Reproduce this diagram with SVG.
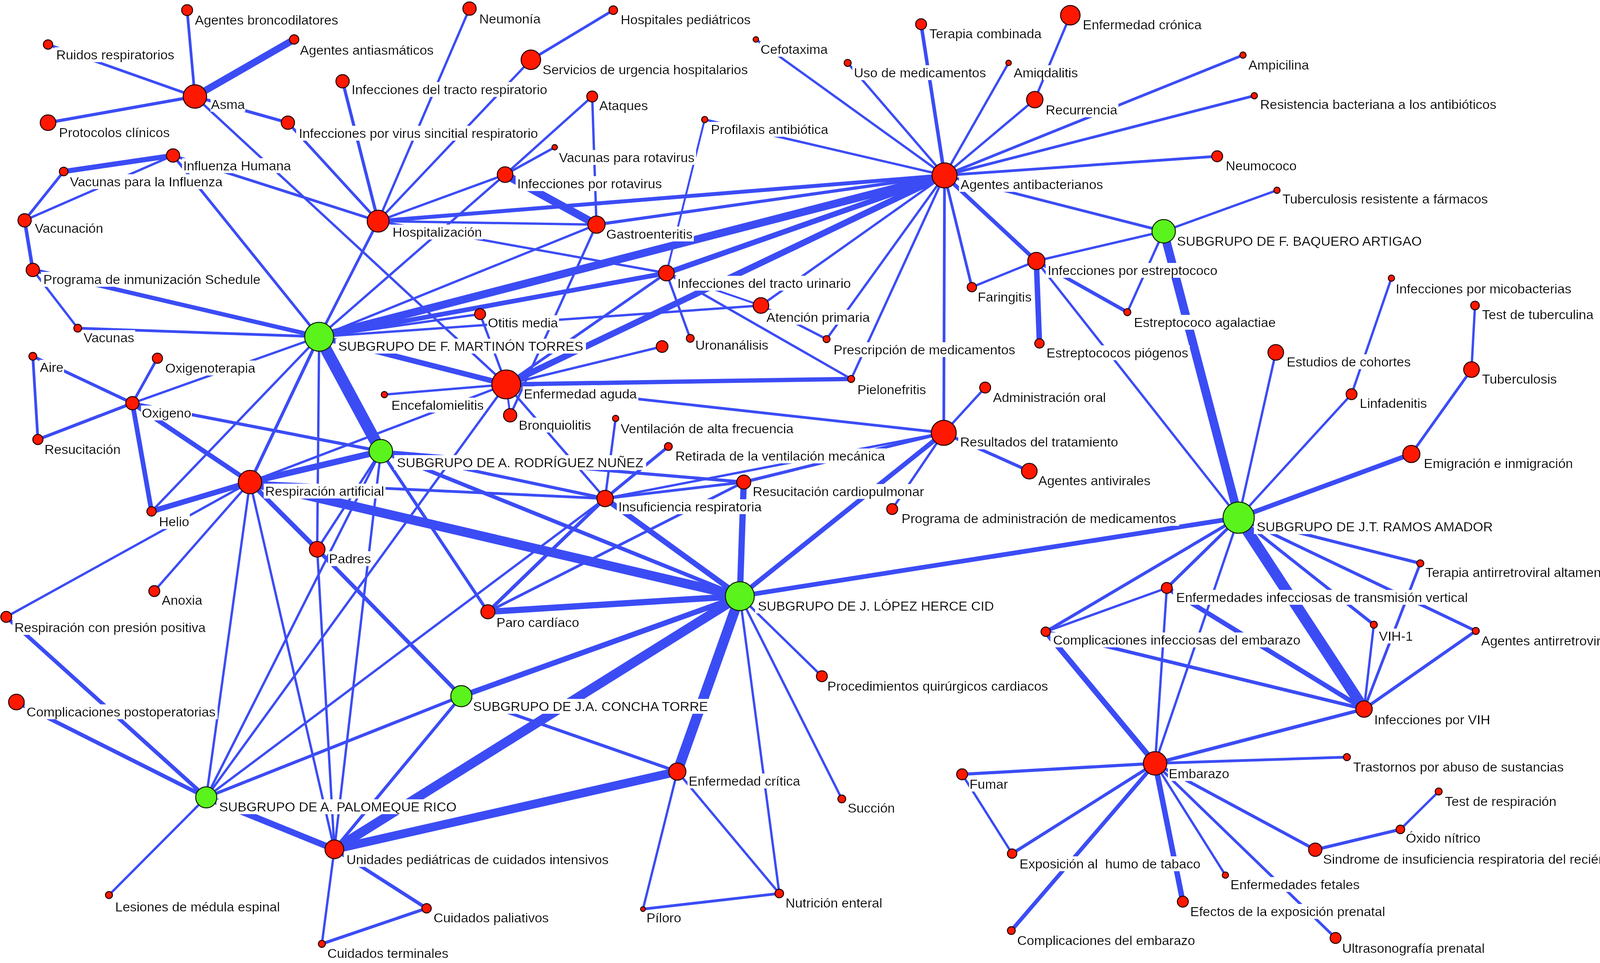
<svg xmlns="http://www.w3.org/2000/svg" width="4257" height="2465" viewBox="0 0 4257 2465">
<defs>
<filter id="wb" x="-0.01" y="0" width="1.02" height="1"><feFlood flood-color="#ffffff"/><feComposite in="SourceGraphic"/></filter>
<style>
.e line{stroke:#3b4cf5;stroke-linecap:butt}
.r{fill:#ff1800;stroke:#200000;stroke-width:2.5}
.g{fill:#5af31c;stroke:#102000;stroke-width:2.5}
text{font-family:"Liberation Sans",Arial,sans-serif;font-size:34px;fill:#000;filter:url(#wb)}
</style>
</defs>
<rect width="4257" height="2465" fill="#ffffff"/>
<g id="edges" class="e">
<line x1="499" y1="247" x2="479" y2="26" stroke-width="7"/>
<line x1="499" y1="247" x2="753" y2="101" stroke-width="18"/>
<line x1="499" y1="247" x2="123" y2="114" stroke-width="7"/>
<line x1="499" y1="247" x2="123" y2="314" stroke-width="8"/>
<line x1="499" y1="247" x2="737" y2="314" stroke-width="8"/>
<line x1="499" y1="247" x2="1296" y2="984" stroke-width="6"/>
<line x1="737" y1="314" x2="968" y2="566" stroke-width="7"/>
<line x1="877" y1="208" x2="968" y2="566" stroke-width="8"/>
<line x1="1202" y1="22" x2="968" y2="566" stroke-width="6"/>
<line x1="1359" y1="153" x2="968" y2="566" stroke-width="6"/>
<line x1="1570" y1="26" x2="1359" y2="153" stroke-width="7"/>
<line x1="443" y1="398" x2="968" y2="566" stroke-width="7"/>
<line x1="443" y1="398" x2="163" y2="439" stroke-width="13"/>
<line x1="63" y1="564" x2="443" y2="398" stroke-width="6"/>
<line x1="63" y1="564" x2="163" y2="439" stroke-width="7"/>
<line x1="63" y1="564" x2="84" y2="691" stroke-width="9"/>
<line x1="84" y1="691" x2="199" y2="840" stroke-width="6"/>
<line x1="84" y1="691" x2="817" y2="862" stroke-width="11"/>
<line x1="199" y1="840" x2="817" y2="862" stroke-width="7"/>
<line x1="443" y1="398" x2="817" y2="862" stroke-width="7"/>
<line x1="968" y1="566" x2="817" y2="862" stroke-width="7"/>
<line x1="968" y1="566" x2="2418" y2="449" stroke-width="10"/>
<line x1="968" y1="566" x2="1527" y2="575" stroke-width="6"/>
<line x1="968" y1="566" x2="1706" y2="699" stroke-width="6"/>
<line x1="968" y1="566" x2="1293" y2="447" stroke-width="6"/>
<line x1="1293" y1="447" x2="1527" y2="575" stroke-width="20"/>
<line x1="1516" y1="247" x2="1527" y2="575" stroke-width="6"/>
<line x1="1516" y1="247" x2="1293" y2="447" stroke-width="6"/>
<line x1="1420" y1="377" x2="1293" y2="447" stroke-width="6"/>
<line x1="1527" y1="575" x2="817" y2="862" stroke-width="6"/>
<line x1="1293" y1="447" x2="817" y2="862" stroke-width="6"/>
<line x1="1527" y1="575" x2="2418" y2="449" stroke-width="8"/>
<line x1="1527" y1="575" x2="1306" y2="1063" stroke-width="6"/>
<line x1="1706" y1="699" x2="2418" y2="449" stroke-width="14"/>
<line x1="1706" y1="699" x2="1767" y2="866" stroke-width="6"/>
<line x1="1706" y1="699" x2="2179" y2="970" stroke-width="6"/>
<line x1="1706" y1="699" x2="1296" y2="984" stroke-width="7"/>
<line x1="1706" y1="699" x2="817" y2="862" stroke-width="12"/>
<line x1="1804" y1="306" x2="1706" y2="699" stroke-width="5"/>
<line x1="1804" y1="306" x2="2418" y2="449" stroke-width="6"/>
<line x1="817" y1="862" x2="2418" y2="449" stroke-width="20"/>
<line x1="1296" y1="984" x2="2418" y2="449" stroke-width="16"/>
<line x1="817" y1="862" x2="1948" y2="782" stroke-width="6"/>
<line x1="1948" y1="782" x2="2418" y2="449" stroke-width="6"/>
<line x1="1948" y1="782" x2="2116" y2="868" stroke-width="6"/>
<line x1="1706" y1="699" x2="1948" y2="782" stroke-width="5"/>
<line x1="2116" y1="868" x2="2418" y2="449" stroke-width="6"/>
<line x1="2179" y1="970" x2="2418" y2="449" stroke-width="6"/>
<line x1="1296" y1="984" x2="2179" y2="970" stroke-width="11"/>
<line x1="1296" y1="984" x2="2416" y2="1108" stroke-width="7"/>
<line x1="1296" y1="984" x2="1695" y2="887" stroke-width="6"/>
<line x1="1229" y1="804" x2="817" y2="862" stroke-width="6"/>
<line x1="1229" y1="804" x2="1296" y2="984" stroke-width="6"/>
<line x1="817" y1="862" x2="1296" y2="984" stroke-width="14"/>
<line x1="984" y1="1010" x2="1296" y2="984" stroke-width="6"/>
<line x1="640" y1="1234" x2="1296" y2="984" stroke-width="6"/>
<line x1="528" y1="2041" x2="1296" y2="984" stroke-width="6"/>
<line x1="1296" y1="984" x2="1549" y2="1276" stroke-width="6"/>
<line x1="1306" y1="1063" x2="1296" y2="984" stroke-width="5"/>
<line x1="2418" y1="449" x2="1935" y2="101" stroke-width="6"/>
<line x1="2418" y1="449" x2="2170" y2="161" stroke-width="6"/>
<line x1="2418" y1="449" x2="2358" y2="62" stroke-width="9"/>
<line x1="2418" y1="449" x2="2582" y2="161" stroke-width="6"/>
<line x1="2418" y1="449" x2="2649" y2="255" stroke-width="6"/>
<line x1="2649" y1="255" x2="2740" y2="39" stroke-width="6"/>
<line x1="2418" y1="449" x2="3182" y2="141" stroke-width="7"/>
<line x1="2418" y1="449" x2="3211" y2="245" stroke-width="7"/>
<line x1="2418" y1="449" x2="3116" y2="400" stroke-width="7"/>
<line x1="2418" y1="449" x2="2979" y2="592" stroke-width="7"/>
<line x1="2418" y1="449" x2="2653" y2="668" stroke-width="10"/>
<line x1="2418" y1="449" x2="2488" y2="735" stroke-width="7"/>
<line x1="2418" y1="449" x2="2416" y2="1108" stroke-width="7"/>
<line x1="2653" y1="668" x2="2488" y2="735" stroke-width="6"/>
<line x1="2653" y1="668" x2="2661" y2="879" stroke-width="14"/>
<line x1="2653" y1="668" x2="2886" y2="799" stroke-width="9"/>
<line x1="2653" y1="668" x2="2979" y2="592" stroke-width="6"/>
<line x1="2886" y1="799" x2="2979" y2="592" stroke-width="6"/>
<line x1="2979" y1="592" x2="3269" y2="487" stroke-width="6"/>
<line x1="2979" y1="592" x2="3171" y2="1325" stroke-width="22"/>
<line x1="2653" y1="668" x2="3171" y2="1325" stroke-width="6"/>
<line x1="3171" y1="1325" x2="3266" y2="902" stroke-width="6"/>
<line x1="3171" y1="1325" x2="3460" y2="1009" stroke-width="6"/>
<line x1="3460" y1="1009" x2="3562" y2="712" stroke-width="6"/>
<line x1="3171" y1="1325" x2="3613" y2="1162" stroke-width="12"/>
<line x1="3613" y1="1162" x2="3767" y2="946" stroke-width="7"/>
<line x1="3767" y1="946" x2="3776" y2="782" stroke-width="6"/>
<line x1="3171" y1="1325" x2="1894" y2="1526" stroke-width="12"/>
<line x1="3171" y1="1325" x2="3636" y2="1442" stroke-width="8"/>
<line x1="3171" y1="1325" x2="3778" y2="1615" stroke-width="8"/>
<line x1="3171" y1="1325" x2="3517" y2="1599" stroke-width="8"/>
<line x1="3171" y1="1325" x2="3492" y2="1815" stroke-width="28"/>
<line x1="3171" y1="1325" x2="2987" y2="1505" stroke-width="8"/>
<line x1="3171" y1="1325" x2="2677" y2="1617" stroke-width="8"/>
<line x1="3171" y1="1325" x2="2957" y2="1954" stroke-width="6"/>
<line x1="3636" y1="1442" x2="3492" y2="1815" stroke-width="7"/>
<line x1="3517" y1="1599" x2="3492" y2="1815" stroke-width="6"/>
<line x1="3778" y1="1615" x2="3492" y2="1815" stroke-width="8"/>
<line x1="2987" y1="1505" x2="3492" y2="1815" stroke-width="12"/>
<line x1="2677" y1="1617" x2="3492" y2="1815" stroke-width="9"/>
<line x1="2957" y1="1954" x2="3492" y2="1815" stroke-width="9"/>
<line x1="2677" y1="1617" x2="2987" y2="1505" stroke-width="6"/>
<line x1="2677" y1="1617" x2="2957" y2="1954" stroke-width="14"/>
<line x1="2987" y1="1505" x2="2957" y2="1954" stroke-width="6"/>
<line x1="2957" y1="1954" x2="3448" y2="1938" stroke-width="7"/>
<line x1="2957" y1="1954" x2="2463" y2="1982" stroke-width="8"/>
<line x1="2463" y1="1982" x2="2591" y2="2185" stroke-width="6"/>
<line x1="2957" y1="1954" x2="2591" y2="2185" stroke-width="8"/>
<line x1="2957" y1="1954" x2="2589" y2="2382" stroke-width="10"/>
<line x1="2957" y1="1954" x2="3137" y2="2240" stroke-width="6"/>
<line x1="2957" y1="1954" x2="3028" y2="2308" stroke-width="14"/>
<line x1="2957" y1="1954" x2="3367" y2="2175" stroke-width="8"/>
<line x1="3367" y1="2175" x2="3585" y2="2123" stroke-width="8"/>
<line x1="3585" y1="2123" x2="3683" y2="2026" stroke-width="6"/>
<line x1="2957" y1="1954" x2="3419" y2="2401" stroke-width="7"/>
<line x1="2416" y1="1108" x2="2522" y2="992" stroke-width="6"/>
<line x1="2416" y1="1108" x2="2635" y2="1206" stroke-width="8"/>
<line x1="2416" y1="1108" x2="2284" y2="1303" stroke-width="6"/>
<line x1="2416" y1="1108" x2="1894" y2="1526" stroke-width="12"/>
<line x1="2416" y1="1108" x2="1549" y2="1276" stroke-width="6"/>
<line x1="2416" y1="1108" x2="1904" y2="1234" stroke-width="8"/>
<line x1="1894" y1="1526" x2="1904" y2="1234" stroke-width="16"/>
<line x1="1894" y1="1526" x2="1549" y2="1276" stroke-width="14"/>
<line x1="1894" y1="1526" x2="1249" y2="1566" stroke-width="16"/>
<line x1="1894" y1="1526" x2="640" y2="1234" stroke-width="24"/>
<line x1="1894" y1="1526" x2="975" y2="1155" stroke-width="10"/>
<line x1="1894" y1="1526" x2="1181" y2="1782" stroke-width="14"/>
<line x1="1894" y1="1526" x2="856" y2="2174" stroke-width="24"/>
<line x1="1894" y1="1526" x2="1734" y2="1975" stroke-width="26"/>
<line x1="1894" y1="1526" x2="2104" y2="1731" stroke-width="6"/>
<line x1="1894" y1="1526" x2="2155" y2="2045" stroke-width="6"/>
<line x1="1894" y1="1526" x2="1995" y2="2287" stroke-width="6"/>
<line x1="1734" y1="1975" x2="856" y2="2174" stroke-width="22"/>
<line x1="1734" y1="1975" x2="1181" y2="1782" stroke-width="8"/>
<line x1="1734" y1="1975" x2="1646" y2="2327" stroke-width="6"/>
<line x1="1734" y1="1975" x2="1995" y2="2287" stroke-width="6"/>
<line x1="1646" y1="2327" x2="1995" y2="2287" stroke-width="7"/>
<line x1="975" y1="1155" x2="817" y2="862" stroke-width="30"/>
<line x1="975" y1="1155" x2="640" y2="1234" stroke-width="16"/>
<line x1="975" y1="1155" x2="1549" y2="1276" stroke-width="8"/>
<line x1="975" y1="1155" x2="1904" y2="1234" stroke-width="8"/>
<line x1="975" y1="1155" x2="1249" y2="1566" stroke-width="8"/>
<line x1="975" y1="1155" x2="528" y2="2041" stroke-width="6"/>
<line x1="975" y1="1155" x2="856" y2="2174" stroke-width="6"/>
<line x1="975" y1="1155" x2="812" y2="1406" stroke-width="6"/>
<line x1="339" y1="1032" x2="975" y2="1155" stroke-width="8"/>
<line x1="339" y1="1032" x2="640" y2="1234" stroke-width="12"/>
<line x1="339" y1="1032" x2="388" y2="1309" stroke-width="12"/>
<line x1="339" y1="1032" x2="84" y2="912" stroke-width="8"/>
<line x1="339" y1="1032" x2="403" y2="917" stroke-width="7"/>
<line x1="339" y1="1032" x2="97" y2="1125" stroke-width="8"/>
<line x1="339" y1="1032" x2="817" y2="862" stroke-width="6"/>
<line x1="84" y1="912" x2="97" y2="1125" stroke-width="7"/>
<line x1="388" y1="1309" x2="640" y2="1234" stroke-width="14"/>
<line x1="388" y1="1309" x2="817" y2="862" stroke-width="6"/>
<line x1="640" y1="1234" x2="817" y2="862" stroke-width="8"/>
<line x1="640" y1="1234" x2="1549" y2="1276" stroke-width="7"/>
<line x1="640" y1="1234" x2="812" y2="1406" stroke-width="12"/>
<line x1="640" y1="1234" x2="528" y2="2041" stroke-width="6"/>
<line x1="640" y1="1234" x2="856" y2="2174" stroke-width="6"/>
<line x1="640" y1="1234" x2="395" y2="1513" stroke-width="6"/>
<line x1="16" y1="1579" x2="640" y2="1234" stroke-width="6"/>
<line x1="812" y1="1406" x2="817" y2="862" stroke-width="6"/>
<line x1="812" y1="1406" x2="1181" y2="1782" stroke-width="10"/>
<line x1="812" y1="1406" x2="856" y2="2174" stroke-width="6"/>
<line x1="528" y1="2041" x2="856" y2="2174" stroke-width="16"/>
<line x1="528" y1="2041" x2="1181" y2="1782" stroke-width="8"/>
<line x1="528" y1="2041" x2="42" y2="1797" stroke-width="10"/>
<line x1="528" y1="2041" x2="16" y2="1579" stroke-width="10"/>
<line x1="528" y1="2041" x2="279" y2="2291" stroke-width="6"/>
<line x1="528" y1="2041" x2="1549" y2="1276" stroke-width="6"/>
<line x1="1181" y1="1782" x2="856" y2="2174" stroke-width="8"/>
<line x1="856" y1="2174" x2="824" y2="2416" stroke-width="6"/>
<line x1="856" y1="2174" x2="1092" y2="2325" stroke-width="9"/>
<line x1="824" y1="2416" x2="1092" y2="2325" stroke-width="8"/>
<line x1="1549" y1="1276" x2="1576" y2="1071" stroke-width="6"/>
<line x1="1549" y1="1276" x2="1711" y2="1143" stroke-width="8"/>
<line x1="1549" y1="1276" x2="1904" y2="1234" stroke-width="7"/>
<line x1="1549" y1="1276" x2="1249" y2="1566" stroke-width="9"/>
<line x1="1904" y1="1234" x2="1249" y2="1566" stroke-width="7"/>
</g>
<g id="n1"><text x="499" y="63">Agentes broncodilatores</text><circle class="r" cx="479" cy="26" r="14"/></g>
<g id="n2"><text x="144" y="152">Ruidos respiratorios</text><circle class="r" cx="123" cy="114" r="12"/></g>
<g id="n3"><text x="768" y="140">Agentes antiasmáticos</text><circle class="r" cx="753" cy="101" r="12"/></g>
<g id="n4"><text x="540" y="279">Asma</text><circle class="r" cx="499" cy="247" r="30"/></g>
<g id="n5"><text x="151" y="351">Protocolos clínicos</text><circle class="r" cx="123" cy="314" r="20"/></g>
<g id="n6"><text x="900" y="241">Infecciones del tracto respiratorio</text><circle class="r" cx="877" cy="208" r="17"/></g>
<g id="n7"><text x="765" y="353">Infecciones por virus sincitial respiratorio</text><circle class="r" cx="737" cy="314" r="17"/></g>
<g id="n8"><text x="469" y="436">Influenza Humana</text><circle class="r" cx="443" cy="398" r="17"/></g>
<g id="n9"><text x="179" y="477">Vacunas para la Influenza</text><circle class="r" cx="163" cy="439" r="11"/></g>
<g id="n10"><text x="89" y="596">Vacunación</text><circle class="r" cx="63" cy="564" r="17"/></g>
<g id="n11"><text x="111" y="727">Programa de inmunización Schedule</text><circle class="r" cx="84" cy="691" r="17"/></g>
<g id="n12"><text x="1005" y="606">Hospitalización</text><circle class="r" cx="968" cy="566" r="28"/></g>
<g id="n13"><text x="866" y="898">SUBGRUPO DE F. MARTINÓN TORRES</text><circle class="g" cx="817" cy="862" r="37"/></g>
<g id="n14"><text x="214" y="876">Vacunas</text><circle class="r" cx="199" cy="840" r="10"/></g>
<g id="n15"><text x="1227" y="60">Neumonía</text><circle class="r" cx="1202" cy="22" r="17"/></g>
<g id="n16"><text x="1589" y="62">Hospitales pediátricos</text><circle class="r" cx="1570" cy="26" r="11"/></g>
<g id="n17"><text x="1947" y="138">Cefotaxima</text><circle class="r" cx="1935" cy="101" r="7"/></g>
<g id="n18"><text x="1389" y="190">Servicios de urgencia hospitalarios</text><circle class="r" cx="1359" cy="153" r="25"/></g>
<g id="n19"><text x="1534" y="282">Ataques</text><circle class="r" cx="1516" cy="247" r="14"/></g>
<g id="n20"><text x="1820" y="343">Profilaxis antibiótica</text><circle class="r" cx="1804" cy="306" r="8"/></g>
<g id="n21"><text x="1431" y="415">Vacunas para rotavirus</text><circle class="r" cx="1420" cy="377" r="7"/></g>
<g id="n22"><text x="1324" y="482">Infecciones por rotavirus</text><circle class="r" cx="1293" cy="447" r="20"/></g>
<g id="n23"><text x="1552" y="611">Gastroenteritis</text><circle class="r" cx="1527" cy="575" r="22"/></g>
<g id="n24"><text x="1734" y="737">Infecciones del tracto urinario</text><circle class="r" cx="1706" cy="699" r="20"/></g>
<g id="n25"><text x="1962" y="824">Atención primaria</text><circle class="r" cx="1948" cy="782" r="20"/></g>
<g id="n26"><text x="1249" y="838">Otitis media</text><circle class="r" cx="1229" cy="804" r="14"/></g>
<g id="n27"><text x="2379" y="98">Terapia combinada</text><circle class="r" cx="2358" cy="62" r="14"/></g>
<g id="n28"><text x="2772" y="75">Enfermedad crónica</text><circle class="r" cx="2740" cy="39" r="25"/></g>
<g id="n29"><text x="2186" y="198">Uso de medicamentos</text><circle class="r" cx="2170" cy="161" r="9"/></g>
<g id="n30"><text x="2595" y="198">Amiqdalitis</text><circle class="r" cx="2582" cy="161" r="7"/></g>
<g id="n31"><text x="2677" y="293">Recurrencia</text><circle class="r" cx="2649" cy="255" r="21"/></g>
<g id="n32"><text x="3196" y="178">Ampicilina</text><circle class="r" cx="3182" cy="141" r="8"/></g>
<g id="n33"><text x="3226" y="279">Resistencia bacteriana a los antibióticos</text><circle class="r" cx="3211" cy="245" r="8"/></g>
<g id="n34"><text x="3138" y="436">Neumococo</text><circle class="r" cx="3116" cy="400" r="14"/></g>
<g id="n35"><text x="2459" y="484">Agentes antibacterianos</text><circle class="r" cx="2418" cy="449" r="32"/></g>
<g id="n36"><text x="3283" y="521">Tuberculosis resistente a fármacos</text><circle class="r" cx="3269" cy="487" r="8"/></g>
<g id="n37"><text x="3013" y="629">SUBGRUPO DE F. BAQUERO ARTIGAO</text><circle class="g" cx="2979" cy="592" r="30"/></g>
<g id="n38"><text x="2682" y="704">Infecciones por estreptococo</text><circle class="r" cx="2653" cy="668" r="22"/></g>
<g id="n39"><text x="2503" y="772">Faringitis</text><circle class="r" cx="2488" cy="735" r="12"/></g>
<g id="n40"><text x="2903" y="837">Estreptococo agalactiae</text><circle class="r" cx="2886" cy="799" r="9"/></g>
<g id="n41"><text x="3573" y="751">Infecciones por micobacterias</text><circle class="r" cx="3562" cy="712" r="8"/></g>
<g id="n42"><text x="3794" y="817">Test de tuberculina</text><circle class="r" cx="3776" cy="782" r="11"/></g>
<g id="n43"><text x="2134" y="907">Prescripción de medicamentos</text><circle class="r" cx="2116" cy="868" r="9"/></g>
<g id="n44"><text x="2679" y="915">Estreptococos piógenos</text><circle class="r" cx="2661" cy="879" r="12"/></g>
<g id="n45"><text x="2195" y="1009">Pielonefritis</text><circle class="r" cx="2179" cy="970" r="9"/></g>
<g id="n46"><text x="1780" y="895">Uronanálisis</text><circle class="r" cx="1767" cy="866" r="10"/></g>
<g id="n47"><circle class="r" cx="1695" cy="887" r="15"/></g>
<g id="n48"><text x="1341" y="1020">Enfermedad aguda</text><circle class="r" cx="1296" cy="984" r="37"/></g>
<g id="n49"><text x="1002" y="1049">Encefalomielitis</text><circle class="r" cx="984" cy="1010" r="8"/></g>
<g id="n50"><text x="1328" y="1100">Bronquiolitis</text><circle class="r" cx="1306" cy="1063" r="17"/></g>
<g id="n51"><text x="1589" y="1109">Ventilación de alta frecuencia</text><circle class="r" cx="1576" cy="1071" r="8"/></g>
<g id="n52"><text x="1729" y="1179">Retirada de la ventilación mecánica</text><circle class="r" cx="1711" cy="1143" r="10"/></g>
<g id="n53"><text x="1583" y="1309">Insuficiencia respiratoria</text><circle class="r" cx="1549" cy="1276" r="21"/></g>
<g id="n54"><text x="1927" y="1270">Resucitación cardiopulmonar</text><circle class="r" cx="1904" cy="1234" r="18"/></g>
<g id="n55"><text x="1271" y="1605">Paro cardíaco</text><circle class="r" cx="1249" cy="1566" r="18"/></g>
<g id="n56"><text x="1940" y="1563">SUBGRUPO DE J. LÓPEZ HERCE CID</text><circle class="g" cx="1894" cy="1526" r="37"/></g>
<g id="n57"><text x="102" y="952">Aire</text><circle class="r" cx="84" cy="912" r="10"/></g>
<g id="n58"><text x="423" y="954">Oxigenoterapia</text><circle class="r" cx="403" cy="917" r="13"/></g>
<g id="n59"><text x="363" y="1069">Oxigeno</text><circle class="r" cx="339" cy="1032" r="17"/></g>
<g id="n60"><text x="114" y="1162">Resucitación</text><circle class="r" cx="97" cy="1125" r="13"/></g>
<g id="n61"><text x="1016" y="1196">SUBGRUPO DE A. RODRÍGUEZ NUÑEZ</text><circle class="g" cx="975" cy="1155" r="30"/></g>
<g id="n62"><text x="679" y="1269">Respiración artificial</text><circle class="r" cx="640" cy="1234" r="30"/></g>
<g id="n63"><text x="407" y="1347">Helio</text><circle class="r" cx="388" cy="1309" r="12"/></g>
<g id="n64"><text x="842" y="1442">Padres</text><circle class="r" cx="812" cy="1406" r="20"/></g>
<g id="n65"><text x="414" y="1548">Anoxia</text><circle class="r" cx="395" cy="1513" r="14"/></g>
<g id="n66"><text x="37" y="1618">Respiración con presión positiva</text><circle class="r" cx="16" cy="1579" r="14"/></g>
<g id="n67"><text x="2542" y="1029">Administración oral</text><circle class="r" cx="2522" cy="992" r="14"/></g>
<g id="n68"><text x="2458" y="1143">Resultados del tratamiento</text><circle class="r" cx="2416" cy="1108" r="32"/></g>
<g id="n69"><text x="2658" y="1242">Agentes antivirales</text><circle class="r" cx="2635" cy="1206" r="20"/></g>
<g id="n70"><text x="2308" y="1339">Programa de administración de medicamentos</text><circle class="r" cx="2284" cy="1303" r="14"/></g>
<g id="n71"><text x="3217" y="1360">SUBGRUPO DE J.T. RAMOS AMADOR</text><circle class="g" cx="3171" cy="1325" r="40"/></g>
<g id="n72"><text x="3294" y="938">Estudios de cohortes</text><circle class="r" cx="3266" cy="902" r="20"/></g>
<g id="n73"><text x="3481" y="1044">Linfadenitis</text><circle class="r" cx="3460" cy="1009" r="14"/></g>
<g id="n74"><text x="3794" y="982">Tuberculosis</text><circle class="r" cx="3767" cy="946" r="20"/></g>
<g id="n75"><text x="3645" y="1198">Emigración e inmigración</text><circle class="r" cx="3613" cy="1162" r="22"/></g>
<g id="n76"><text x="3649" y="1477">Terapia antirretroviral altamente activa</text><circle class="r" cx="3636" cy="1442" r="9"/></g>
<g id="n77"><text x="3011" y="1541">Enfermedades infecciosas de transmisión vertical</text><circle class="r" cx="2987" cy="1505" r="14"/></g>
<g id="n78"><text x="3530" y="1640">VIH-1</text><circle class="r" cx="3517" cy="1599" r="9"/></g>
<g id="n79"><text x="3792" y="1652">Agentes antirretrovirales</text><circle class="r" cx="3778" cy="1615" r="9"/></g>
<g id="n80"><text x="2696" y="1650">Complicaciones infecciosas del embarazo</text><circle class="r" cx="2677" cy="1617" r="12"/></g>
<g id="n81"><text x="2118" y="1768">Procedimientos quirúrgicos cardiacos</text><circle class="r" cx="2104" cy="1731" r="14"/></g>
<g id="n82"><text x="3518" y="1854">Infecciones por VIH</text><circle class="r" cx="3492" cy="1815" r="21"/></g>
<g id="n83"><text x="3464" y="1975">Trastornos por abuso de sustancias</text><circle class="r" cx="3448" cy="1938" r="9"/></g>
<g id="n84"><text x="2992" y="1992">Embarazo</text><circle class="r" cx="2957" cy="1954" r="30"/></g>
<g id="n85"><text x="2482" y="2019">Fumar</text><circle class="r" cx="2463" cy="1982" r="14"/></g>
<g id="n86"><text x="3699" y="2063">Test de respiración</text><circle class="r" cx="3683" cy="2026" r="9"/></g>
<g id="n87"><text x="3599" y="2157">Óxido nítrico</text><circle class="r" cx="3585" cy="2123" r="11"/></g>
<g id="n88"><text x="3387" y="2211">Sindrome de insuficiencia respiratoria del recién nacido</text><circle class="r" cx="3367" cy="2175" r="17"/></g>
<g id="n89"><text x="2170" y="2080">Succión</text><circle class="r" cx="2155" cy="2045" r="10"/></g>
<g id="n90"><text x="2610" y="2223">Exposición al&#160; humo de tabaco</text><circle class="r" cx="2591" cy="2185" r="12"/></g>
<g id="n91"><text x="3150" y="2276">Enfermedades fetales</text><circle class="r" cx="3137" cy="2240" r="8"/></g>
<g id="n92"><text x="3047" y="2345">Efectos de la exposición prenatal</text><circle class="r" cx="3028" cy="2308" r="14"/></g>
<g id="n93"><text x="2604" y="2419">Complicaciones del embarazo</text><circle class="r" cx="2589" cy="2382" r="10"/></g>
<g id="n94"><text x="3436" y="2439">Ultrasonografía prenatal</text><circle class="r" cx="3419" cy="2401" r="14"/></g>
<g id="n95"><text x="68" y="1834">Complicaciones postoperatorias</text><circle class="r" cx="42" cy="1797" r="20"/></g>
<g id="n96"><text x="561" y="2077">SUBGRUPO DE A. PALOMEQUE RICO</text><circle class="g" cx="528" cy="2041" r="27"/></g>
<g id="n97"><text x="887" y="2212">Unidades pediátricas de cuidados intensivos</text><circle class="r" cx="856" cy="2174" r="24"/></g>
<g id="n98"><text x="295" y="2333">Lesiones de médula espinal</text><circle class="r" cx="279" cy="2291" r="9"/></g>
<g id="n99"><text x="838" y="2452">Cuidados terminales</text><circle class="r" cx="824" cy="2416" r="9"/></g>
<g id="n100"><text x="1110" y="2361">Cuidados paliativos</text><circle class="r" cx="1092" cy="2325" r="12"/></g>
<g id="n101"><text x="1211" y="1820">SUBGRUPO DE J.A. CONCHA TORRE</text><circle class="g" cx="1181" cy="1782" r="27"/></g>
<g id="n102"><text x="1763" y="2011">Enfermedad crítica</text><circle class="r" cx="1734" cy="1975" r="22"/></g>
<g id="n103"><text x="1655" y="2361">Píloro</text><circle class="r" cx="1646" cy="2327" r="6"/></g>
<g id="n104"><text x="2011" y="2323">Nutrición enteral</text><circle class="r" cx="1995" cy="2287" r="11"/></g>
</svg>
